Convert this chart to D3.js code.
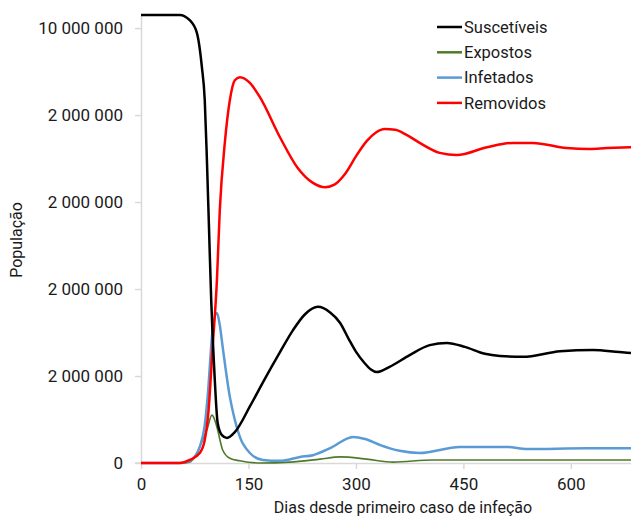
<!DOCTYPE html>
<html>
<head>
<meta charset="utf-8">
<script src="https://cdn.jsdelivr.net/npm/d3@7"></script>
<style>
  body { margin: 0; background: #fff; }
  text { font-family: Roboto, "Noto Sans", sans-serif; fill: #1a1a1a; }
</style>
</head>
<body>
<div id="frame_div"></div>
<script>
// chart constants
const FRAME_WIDTH = 631;
const FRAME_HEIGHT = 516;

// data (days, population in millions)
const susDays = [0, 54, 68, 78, 85, 89, 92, 95, 98, 103, 107, 113, 120, 131, 152, 170, 194, 212, 229, 247, 264, 278, 290, 300, 312, 321, 329, 347, 375, 403, 427, 452, 480, 501, 533, 585, 631, 668, 684];
const susVals = [10.30, 10.30, 10.18, 9.89, 9.10, 8.34, 6.97, 5.36, 3.75, 1.91, 0.92, 0.64, 0.575, 0.71, 1.30, 1.85, 2.55, 3.05, 3.42, 3.59, 3.46, 3.22, 2.85, 2.56, 2.30, 2.15, 2.09, 2.21, 2.48, 2.71, 2.76, 2.67, 2.51, 2.46, 2.44, 2.57, 2.60, 2.55, 2.53];

const expDays = [0, 54, 68, 78, 86, 92, 99, 103, 107, 114, 124, 138, 166, 208, 250, 278, 315, 352, 407, 529, 684];
const expVals = [0, 0, 0.02, 0.23, 0.53, 0.76, 1.10, 0.99, 0.76, 0.30, 0.11, 0.05, 0.0, 0.02, 0.09, 0.14, 0.09, 0.02, 0.07, 0.07, 0.07];

const infDays = [0, 54, 64, 75, 82, 89, 93, 100, 106, 110, 114, 124, 131, 138, 152, 170, 194, 222, 240, 264, 296, 313, 334, 361, 389, 445, 511, 539, 622, 684];
const infVals = [0, 0, 0.02, 0.14, 0.37, 0.87, 1.52, 3.06, 3.45, 3.17, 2.67, 1.52, 0.99, 0.60, 0.23, 0.07, 0.05, 0.14, 0.18, 0.34, 0.60, 0.55, 0.41, 0.28, 0.23, 0.37, 0.37, 0.32, 0.34, 0.34];

const remDays = [0, 54, 68, 82, 89, 94, 100, 106, 110, 117, 124, 131, 138, 152, 166, 194, 218, 240, 257, 270, 285, 300, 315, 328, 340, 355, 370, 389, 417, 441, 483, 519, 547, 594, 626, 650, 684];
const remVals = [0, 0, 0.07, 0.23, 0.53, 1.15, 2.67, 4.21, 5.82, 7.36, 8.34, 8.80, 8.87, 8.74, 8.41, 7.49, 6.80, 6.44, 6.34, 6.40, 6.65, 7.05, 7.40, 7.60, 7.68, 7.66, 7.55, 7.36, 7.13, 7.08, 7.26, 7.36, 7.36, 7.24, 7.22, 7.24, 7.26];

const seriesNames = ["Suscetíveis", "Expostos", "Infetados", "Removidos"];
const seriesColors = ["#000000", "#4f7a2a", "#5b9bd5", "#ff0000"];
const seriesWidths = [2.5, 1.6, 2.5, 2.5];

const yTicks = [0, 2e6, 4e6, 6e6, 8e6, 10e6];
const yTickLabels = ["0", "2 000 000", "2 000 000", "2 000 000", "2 000 000", "10 000 000"];
const xTicks = [0, 150, 300, 450, 600];

const series = [
  {days: susDays, vals: susVals},
  {days: expDays, vals: expVals},
  {days: infDays, vals: infVals},
  {days: remDays, vals: remVals}
].map((s, i) => ({
  name: seriesNames[i],
  color: seriesColors[i],
  width: seriesWidths[i],
  points: s.days.map((d, j) => ({x: d, y: s.vals[j] * 1e6}))
}));

const FRAME = d3.select("#frame_div")
  .append("svg")
    .attr("width", FRAME_WIDTH)
    .attr("height", FRAME_HEIGHT);

// scales
const X_SCALE = d3.scaleLinear().domain([0, 684]).range([141, 631]);
const Y_SCALE = d3.scaleLinear().domain([0, 10.3e6]).range([463, 15]);

// y axis
const yAxis = FRAME.append("g")
  .attr("transform", "translate(141,0)")
  .call(d3.axisLeft(Y_SCALE)
    .tickValues(yTicks)
    .tickFormat((d, i) => yTickLabels[i])
    .tickSize(6)
    .tickSizeOuter(0)
    .tickPadding(12));

// x axis
const xAxis = FRAME.append("g")
  .attr("transform", "translate(0,463)")
  .call(d3.axisBottom(X_SCALE)
    .tickValues(xTicks)
    .tickSize(6)
    .tickSizeOuter(0)
    .tickPadding(9));

[yAxis, xAxis].forEach(ax => {
  ax.select(".domain").attr("stroke", "#d9d9d9").attr("stroke-width", 1.5);
  ax.selectAll(".tick line").attr("stroke", "#d9d9d9").attr("stroke-width", 1.5);
  ax.selectAll(".tick text")
    .style("font-family", "Roboto, sans-serif")
    .style("font-size", "17px")
    .attr("fill", "#1a1a1a");
});

// little stub of x axis left of the y axis
FRAME.append("line")
  .attr("x1", 135).attr("x2", 141)
  .attr("y1", 463).attr("y2", 463)
  .attr("stroke", "#d9d9d9").attr("stroke-width", 1.5);

// lines
const line = d3.line()
  .x(d => X_SCALE(d.x))
  .y(d => Y_SCALE(d.y))
  .curve(d3.curveMonotoneX);

const drawOrder = [1, 2, 3, 0];
FRAME.selectAll(".series")
  .data(drawOrder.map(i => series[i]))
  .enter()
  .append("path")
    .attr("class", "series")
    .attr("d", d => line(d.points))
    .attr("fill", "none")
    .attr("stroke", d => d.color)
    .attr("stroke-width", d => d.width)
    .attr("stroke-linejoin", "round");

// legend
const legend = FRAME.selectAll(".legend")
  .data(series)
  .enter()
  .append("g")
    .attr("class", "legend")
    .attr("transform", (d, i) => `translate(437,${27 + i * 25.3})`);

legend.append("line")
  .attr("x1", 0).attr("x2", 25)
  .attr("stroke", d => d.color)
  .attr("stroke-width", 2.5);

legend.append("text")
  .attr("x", 27)
  .attr("dy", "0.35em")
  .style("font-size", "16.5px")
  .text(d => d.name);

// axis titles
FRAME.append("text")
  .attr("x", 403)
  .attr("y", 513)
  .attr("text-anchor", "middle")
  .style("font-size", "16px")
  .text("Dias desde primeiro caso de infeção");

FRAME.append("text")
  .attr("transform", "translate(22,240) rotate(-90)")
  .attr("text-anchor", "middle")
  .style("font-size", "16px")
  .text("População");
</script>
</body>
</html>
